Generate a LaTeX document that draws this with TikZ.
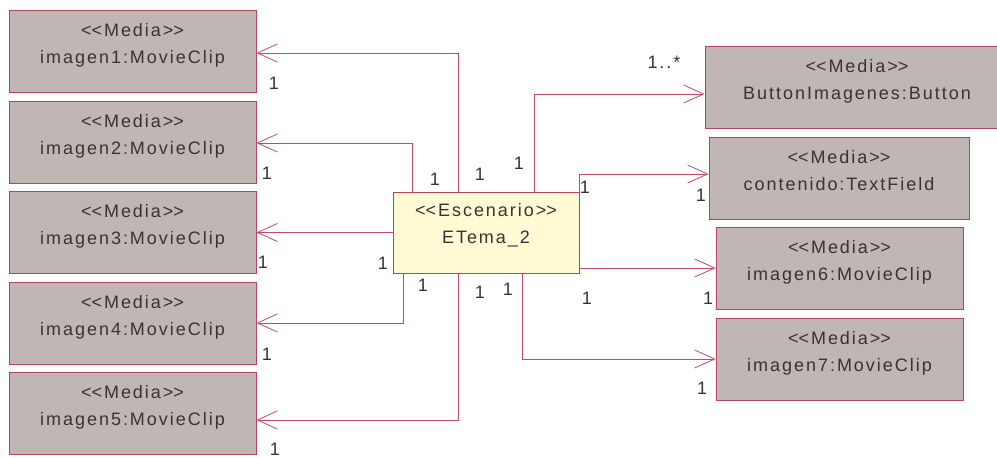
\documentclass[tikz,border=0pt]{standalone}
\usepackage{fontspec}
\setmainfont{Liberation Sans}[LetterSpace=11]
\usetikzlibrary{arrows.meta, calc}
\definecolor{mediafill}{HTML}{C0B6B4}
\definecolor{boxline}{HTML}{B8435E}
\definecolor{assocline}{HTML}{C24A66}
\definecolor{escfill}{HTML}{FFF9D4}
\definecolor{txtgray}{HTML}{353535}
\newcommand{\stereo}[1]{<\kern0pt<#1>\kern0pt>}

\begin{document}
\begin{tikzpicture}[
  x=1pt, y=-1pt,
  >={Straight Barb[length=20pt, width=18pt]},
  every node/.style={text=txtgray, font=\fontsize{18}{27}\selectfont},
  media/.style={draw=boxline, fill=mediafill, line width=0.8pt, minimum height=82pt,
    inner sep=0pt, align=center, text height=40pt, text depth=16pt},
  escbox/.style={media, fill=escfill, minimum width=186pt, minimum height=81pt,
    text depth=19pt},
  assoc/.style={draw=assocline, line width=0.8pt, ->},
  mult/.style={inner sep=0pt},
]

% Page
\useasboundingbox (0,0) rectangle (997,458);
\clip (0,0) rectangle (997,458);

% Left media boxes
\node[media, minimum width=247pt] (img1) at (132.5,51) {\stereo{Media}\\imagen1:MovieClip};
\node[media, minimum width=247pt] (img2) at (132.5,142) {\stereo{Media}\\imagen2:MovieClip};
\node[media, minimum width=247pt] (img3) at (132.5,232) {\stereo{Media}\\imagen3:MovieClip};
\node[media, minimum width=247pt] (img4) at (132.5,323) {\stereo{Media}\\imagen4:MovieClip};
\node[media, minimum width=247pt] (img5) at (132.5,413) {\stereo{Media}\\imagen5:MovieClip};

% Scenario
\node[escbox] (esc) at (486,232.5) {\stereo{Escenario}\\ETema\_2};

% Right media boxes
\node[media, minimum width=304pt] (btn) at (857,87.5) {\stereo{Media}\\ButtonImagenes:Button};
\node[media, minimum width=260pt] (cont) at (839,178) {\stereo{Media}\\contenido:TextField};
\node[media, minimum width=247pt] (img6) at (839.5,268) {\stereo{Media}\\imagen6:MovieClip};
\node[media, minimum width=247pt] (img7) at (839.5,359) {\stereo{Media}\\imagen7:MovieClip};

% Associations to the left
\draw[assoc] ([xshift=66pt]esc.north west) |- ([yshift=-2pt]img1.east);
\draw[assoc] ([xshift=20pt]esc.north west) |- ([yshift=-1pt]img2.east);
\draw[assoc] (esc.west) -- (esc.west -| img3.east);
\draw[assoc] ([xshift=11pt]esc.south west) |- (img4.east);
\draw[assoc] ([xshift=66pt]esc.south west) |- ([yshift=-7pt]img5.east);

% Associations to the right
\draw[assoc] ([xshift=142pt]esc.north west) |- ([yshift=-6.5pt]btn.west);
\draw[assoc] (esc.north east) |- ([yshift=4pt]cont.west);
\draw[assoc] (esc.east |- img6.west) -- (img6.west);
\draw[assoc] ([xshift=130pt]esc.south west) |- (img7.west);

% Multiplicities
\node[mult] (img1-m) at (274,83) {1};
\node[mult] (img2-m) at (267,173) {1};
\node[mult] (img3-m) at (263,262) {1};
\node[mult] (img4-m) at (267,354) {1};
\node[mult] (img5-m) at (275,449) {1};
\node[mult] (esc-m1) at (480,174) {1};
\node[mult] (esc-m2) at (435,179) {1};
\node[mult] (esc-m3) at (383,263) {1};
\node[mult] (esc-m4) at (423,285) {1};
\node[mult] (esc-m5) at (480,292) {1};
\node[mult] (esc-m6) at (519,163) {1};
\node[mult] (esc-m7) at (585,187) {1};
\node[mult] (esc-m8) at (587,298) {1};
\node[mult] (esc-m9) at (508,289) {1};
\node[mult] (btn-m) at (664,62) {1..*};
\node[mult] (cont-m) at (701,195) {1};
\node[mult] (img6-m) at (708,298) {1};
\node[mult] (img7-m) at (702,388) {1};

\end{tikzpicture}
\end{document}
